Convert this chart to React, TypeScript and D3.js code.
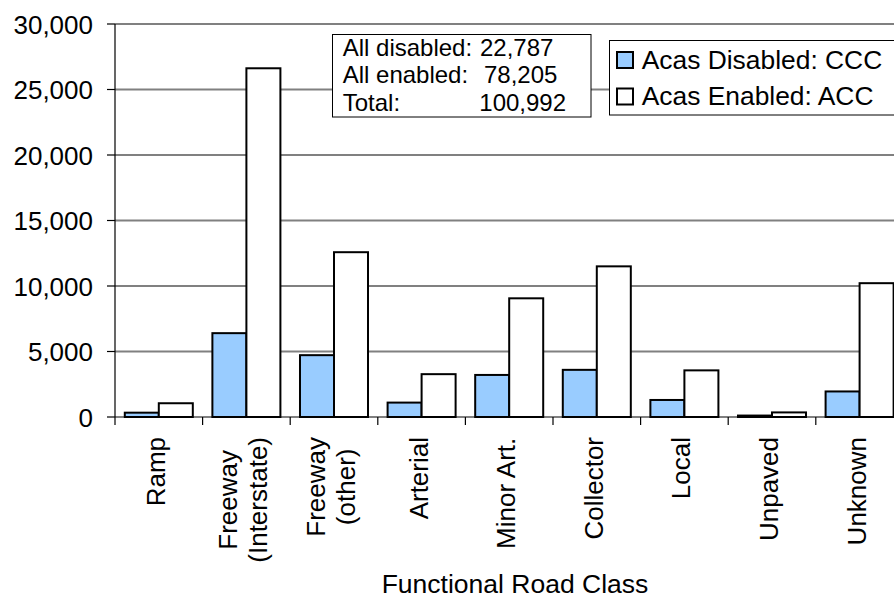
import React from "react";
import * as d3 from "d3";

const categories = ["Ramp", "Freeway\n(Interstate)", "Freeway\n(other)", "Arterial", "Minor Art.", "Collector", "Local", "Unpaved", "Unknown"];
const seriesNames = ["Acas Disabled: CCC", "Acas Enabled: ACC"];
const disabledValues = [330, 6400, 4720, 1100, 3210, 3600, 1300, 110, 1950];
const enabledValues = [1050, 26620, 12580, 3270, 9060, 11500, 3560, 350, 10215];
const yTicks = [0, 5000, 10000, 15000, 20000, 25000, 30000];
const summaryLabels = ["All disabled:", "All enabled:", "Total:"];
const summaryValues = ["22,787", "78,205", "100,992"];
const xTitle = "Functional Road Class";

const FONT = "'Liberation Sans', Arial, sans-serif";
const colors = ["#99CCFF", "#FFFFFF"];

function measure(text: string, size: number): number {
  const c = document.createElement("canvas");
  const ctx = c.getContext("2d")!;
  ctx.font = `${size}px 'Liberation Sans', Arial, sans-serif`;
  return ctx.measureText(text).width;
}

export default function App() {
  const W = 894, H = 599;
  const left = 115, top = 24, bottom = 417;
  const step = 87.6;
  const right = left + step * categories.length;
  const x = d3.scaleBand<string>().domain(categories).range([left, right]).padding(0);
  const xs = d3.scaleBand<string>().domain(seriesNames).range([0, x.bandwidth()]).paddingInner(0).paddingOuter(0.288);
  const y = d3.scaleLinear().domain([0, 30000]).range([bottom, top]);
  const fmt = d3.format(",");
  const series = [disabledValues, enabledValues];
  const labelFs = 26;
  const lineH = 30;

  return (
    <svg width={W} height={H} style={{ position: "absolute", left: 0, top: 0, background: "#fff" }} fontFamily={FONT}>
      <rect x={0} y={0} width={W} height={H} fill="#fff" />
      {yTicks.filter(t => t > 0).map(t => (
        <line key={t} x1={left} x2={W} y1={y(t)} y2={y(t)} stroke="#808080" strokeWidth={2} />
      ))}
      {categories.map((c, i) => (
        <g key={c}>
          {series.map((vals, s) => (
            <rect key={s} x={(x(c) as number) + (xs(seriesNames[s]) as number)} y={y(vals[i])}
              width={xs.bandwidth()} height={bottom - y(vals[i])}
              fill={colors[s]} stroke="#000" strokeWidth={2} />
          ))}
        </g>
      ))}
      <line x1={left} x2={left} y1={top} y2={bottom} stroke="#000" strokeWidth={1.2} />
      <line x1={left} x2={W} y1={bottom} y2={bottom} stroke="#000" strokeWidth={1.2} />
      {yTicks.map(t => (
        <g key={t}>
          <line x1={left - 8} x2={left} y1={y(t)} y2={y(t)} stroke="#000" strokeWidth={1.2} />
          <text x={93} y={y(t) + 9.5} textAnchor="end" fontSize={26} fill="#000">{fmt(t)}</text>
        </g>
      ))}
      {d3.range(categories.length + 1).map(i => (
        <line key={i} x1={left + i * step} x2={left + i * step} y1={bottom} y2={bottom + 8} stroke="#000" strokeWidth={1.2} />
      ))}
      {categories.map(c => {
        const lines = c.split("\n");
        const maxW = Math.max(...lines.map(l => measure(l, labelFs)));
        const cy = 437 + maxW / 2;
        const cx = (x(c) as number) + x.bandwidth() / 2;
        return lines.map((l, i) => {
          const bx = cx + (i - (lines.length - 1) / 2) * lineH + 6;
          return (
            <text key={c + i} transform={`translate(${bx},${cy}) rotate(-90)`} textAnchor="middle" fontSize={labelFs} fill="#000">{l}</text>
          );
        });
      })}
      <text x={515} y={593} textAnchor="middle" fontSize={26.5} fill="#000">{xTitle}</text>
      <rect x={332.5} y={34.5} width={258.5} height={82.5} fill="#fff" stroke="#000" strokeWidth={1} />
      {summaryLabels.map((l, i) => (
        <text key={l} x={342.7} y={55.5 + i * 27.5} fontSize={24} fill="#000">{l}</text>
      ))}
      {summaryValues.map((v, i) => (
        <text key={v} x={[480, 484, 479.3][i]} y={55.5 + i * 27.5} fontSize={24} fill="#000">{v}</text>
      ))}
      <rect x={609.5} y={40.5} width={300} height={74.5} fill="#fff" stroke="#000" strokeWidth={1} />
      {seriesNames.map((n, i) => (
        <g key={n}>
          <rect x={617} y={52 + i * 36.5} width={16} height={16} fill={colors[i]} stroke="#000" strokeWidth={2} />
          <text x={641.7} y={68.5 + i * 36.5} fontSize={26.4} fill="#000">{n}</text>
        </g>
      ))}
    </svg>
  );
}
